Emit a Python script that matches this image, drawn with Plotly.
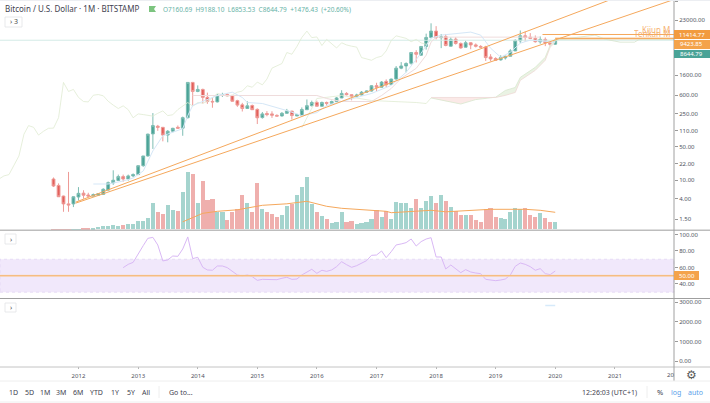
import pandas as pd
import plotly.graph_objects as go

# Monthly BTC/USD candles, Aug 2011 to Jan 2020
opens = [10.5, 7.7, 4.6, 3.15, 3.15, 4.4, 5.3, 4.85, 4.6, 4.8, 5.0, 6.15, 8.7, 9.8, 11.8, 10.5, 12.2, 13, 20, 32,
         93, 135, 128, 88, 106, 128, 123, 204, 1124, 726, 800, 545, 448, 438, 605, 625, 588, 465, 380, 318,
         368, 305, 205, 249, 245, 228, 222, 252, 280, 222, 226, 300, 365, 425, 355, 425, 410, 445, 530, 660,
         620, 572, 612, 700, 740, 960, 890, 1180, 1020, 1320, 2240, 2490, 2835, 4770, 4200, 6400, 9900, 13450, 9790, 10300,
         6480, 9110, 7400, 6175, 7650, 6900, 6400, 6250, 3850, 3570, 3340, 3670, 3985, 5160, 8400, 10700, 10040, 9450, 8000, 9000,
         7600, 7160.69]
highs = [11.3, 8.5, 4.7, 14.8, 4.5, 7.1, 6.1, 5.4, 5.2, 5.3, 6.7, 9.3, 16, 13, 13, 13, 13.8, 20, 32, 94,
         255, 144, 130, 112, 125, 140, 215, 1124, 1150, 972, 830, 685, 552, 640, 680, 660, 610, 485, 418, 450,
         385, 320, 268, 280, 278, 240, 268, 312, 285, 245, 335, 492, 465, 465, 445, 445, 465, 555, 770, 700,
         630, 650, 740, 760, 980, 1105, 1200, 1300, 1350, 2480, 3000, 2970, 4900, 5340, 6450, 11900, 19600, 17100, 11700, 11700,
         10000, 10040, 7750, 8450, 7800, 7400, 6800, 6600, 4400, 3800, 4180, 4100, 5600, 9070, 13850, 13200, 12200, 10900, 10400, 9900,
         7700, 9188.10]
lows = [7.12, 4.45, 2.15, 2.15, 2.7, 3.7, 4.05, 4.4, 4.5, 4.7, 4.9, 6.0, 7.9, 9.6, 9.2, 9.7, 11.5, 12.8, 19, 31,
        45, 108, 65, 62, 100, 118, 85, 196, 367, 700, 405, 398, 330, 425, 555, 565, 445, 345, 275, 310,
        298, 150, 195, 218, 202, 220, 215, 245, 186, 220, 224, 300, 350, 355, 350, 360, 405, 435, 525, 600,
        472, 540, 600, 690, 720, 740, 880, 900, 1000, 1290, 2130, 1830, 2650, 2950, 4110, 5500, 9500, 9000, 5900, 6450,
        6420, 7000, 5750, 6100, 5600, 6100, 5900, 3170, 3120, 3280, 3220, 3390, 3960, 5100, 7500, 8000, 9400, 7700, 7300, 6500,
        6450, 6853.53]
closes = [7.48, 4.45, 3.15, 3.0, 4.45, 5.25, 4.8, 4.6, 4.95, 5.15, 6.4, 8.8, 9.9, 11.8, 10.5, 12.2, 13, 20, 32, 92,
          139, 128, 88, 106, 122, 123, 204, 1124, 726, 800, 545, 445, 438, 605, 625, 588, 452, 375, 318, 362,
          300, 203, 245, 237, 230, 220, 252, 283, 226, 235, 302, 365, 425, 355, 425, 410, 445, 530, 660, 620,
          575, 612, 700, 740, 955, 890, 1140, 1000, 1320, 2240, 2490, 2800, 4770, 4390, 6400, 9900, 13450, 9800, 10150, 6700,
          9000, 7400, 5950, 7650, 6880, 6480, 6200, 3740, 3500, 3280, 3740, 3985, 5160, 8570, 10700, 9900, 9470, 8050, 9000, 7600,
          7100, 8644.79]
volumes = [0.2, 0.2, 0.2, 0.2, 0.2, 0.2, 0.5, 0.5, 1, 2, 3.5, 3.5, 4.5, 3, 4.5, 5.5, 5.5, 8, 8, 11,
           26, 17, 15, 24, 19, 18, 37, 57, 55, 26, 48, 29, 30, 17, 17, 9, 17, 20, 34, 26,
           17, 46, 20, 17, 15, 12, 14, 23, 25, 34, 42, 52, 25, 17, 13, 10, 6, 7, 17, 7,
           8, 5, 6, 7, 10, 19, 12, 18, 10, 27, 26, 26, 21, 30, 21, 28, 33, 26, 34, 28,
           22, 18, 14, 14, 14, 9, 7, 20, 21, 12, 11, 10, 17, 21, 20, 21, 14, 12, 16, 11,
           7, 7]

vol_ma_dates = ["2013-10", "2014-01", "2014-02", "2014-05", "2014-09", "2015-02", "2015-07", "2015-11", "2016-03", "2016-06",
                "2016-12", "2017-03", "2017-04", "2017-08", "2017-12", "2018-03", "2018-08", "2018-12", "2019-07", "2019-10", "2020-01"]
vol_ma = [7.5, 14, 16, 18, 19.5, 24, 25.5, 28, 23, 21, 19, 18, 16.6, 18, 19, 17.5, 19, 20, 20, 19, 17]

rsi_values = [59.8, 63.8, 66.2, 77.2, 86.5, 95.3, 96.5, 87.3, 67.9, 69.1, 73.9, 73.5, 82.4, 97, 70.7, 72.3, 60.2, 57, 56.6, 61.8,
              61.8, 59.8, 54.9, 50.9, 49.7, 50.9, 48.9, 44.4, 45.6, 45.6, 45.6, 45.2, 46.9, 48.1, 45.6, 46, 50.9, 54.9, 57.8, 52.9,
              56.6, 55.3, 57, 61, 67, 63.4, 60.2, 62.2, 65,
              68.3, 74.7, 75.1, 80, 71.9, 79.2, 87.3, 88.5, 90.1, 94.5, 86, 91.3, 94.5, 96.1, 72.7, 72.7, 58.2, 63, 58.2, 53.7,
              57.4, 54.5, 53.3, 52.5, 45.6, 44.4, 44, 44.8, 46, 50.9, 61.4, 65.4, 63.8, 61, 56.6, 58.6, 52.5, 51.3, 55.7]

tenkan_dates = ["2012-04", "2012-07", "2012-10", "2012-12", "2013-02", "2013-04", "2013-06", "2013-10", "2013-11", "2013-12",
                "2014-05", "2014-08", "2014-10", "2014-11", "2015-02", "2015-05", "2015-07", "2015-10", "2016-01", "2016-03",
                "2016-12", "2017-04", "2017-07", "2017-10", "2017-12", "2018-02", "2018-08", "2018-10", "2018-12", "2019-02",
                "2019-04", "2019-06", "2019-08", "2020-01"]
tenkan = [8.25, 8.25, 9.54, 11, 15.5, 41, 85, 120, 226, 367,
          597, 700, 542, 425, 405, 333, 288, 226, 261, 367,
          658, 972, 1829, 4611, 9565, 11070, 12810, 11070, 5880, 3796,
          4841, 7500, 8685, 7880]

kijun_dates = ["2013-12", "2016-01", "2016-03", "2016-06", "2016-12", "2017-02", "2017-04", "2017-06", "2017-09", "2017-11",
               "2017-12", "2018-01", "2019-10"]
kijun = [597, 597, 516, 446, 446, 597, 840, 1366, 2222, 4184, 7880, 10040, 10040]

span_early_dates = ["2015-10", "2015-11", "2016-01", "2016-06", "2016-12", "2017-09", "2017-11", "2017-12"]
span_early = [126, 205, 516, 597, 468, 425, 405, 530]

cloud_dates = ["2017-12", "2018-03", "2018-06", "2018-09", "2019-01", "2019-03", "2019-05", "2019-06", "2019-09", "2019-11",
               "2019-12", "2020-01"]
span_a = [530, 450, 395, 490, 550, 762, 881, 1434, 2333, 3796, 6806, 8685]
span_b = [542, 542, 542, 542, 542, 600, 691, 1239, 2016, 3280, 6175, 7880]

future_dates = ["2020-01", "2020-09", "2020-11", "2021-02", "2021-05", "2021-06", "2021-12-29"]
future_a = [8685, 11070, 9110, 7880, 7880, 9110, 9110]

trend_upper_dates = ["2011-12-15", "2020-12-01"]
trend_upper = [3.43, 60950]
trend_lower_dates = ["2011-12-15", "2021-12-22"]
trend_lower = [3.27, 60950]

monthly_kijun = 11414.77
monthly_tenkan = 9423.85
last_price = 8644.79
monthly_band = [9950, 8700]

price_ticks = [55000, 23000, 1600, 600, 250, 110, 50, 22, 10, 4, 1.5]
rsi_ticks = [100, 80, 60, 40]
third_ticks = [3000, 2000, 1000, 0]
year_ticks = [str(y) for y in range(2012, 2022)]

dates = pd.date_range("2011-08-01", periods=len(closes), freq="MS")
rsi_dates = pd.date_range("2012-10-01", periods=len(rsi_values), freq="MS")
assert len(opens) == len(highs) == len(lows) == len(closes) == len(volumes) == 102
assert len(rsi_values) == 88

GREEN, RED = "#4aa397", "#e2605b"
GREEN_VOL, RED_VOL = "#a5d4ce", "#efafad"
ORANGE = "#f5a85c"
TEXT = "#50535e"
FONT = "Noto Sans"
W, H = 710, 403
AXIS_X = 674


def px(x):
    return x / W


def py(y):
    return 1 - y / H


X_RANGE = ["2010-09-07", "2021-12-29"]
fig = go.Figure()

# Cloud fills and the Ichimoku lines
n = 5
fig.add_trace(go.Scatter(x=cloud_dates[:n] + cloud_dates[:n][::-1], y=span_a[:n] + span_b[:n][::-1], fill="toself",
                         fillcolor="#fbe9e7", mode="none", hoverinfo="skip"))
fig.add_trace(go.Scatter(x=cloud_dates[n - 1:] + cloud_dates[n - 1:][::-1], y=span_a[n - 1:] + span_b[n - 1:][::-1],
                         fill="toself", fillcolor="#eaf3e4", mode="none", hoverinfo="skip"))
fig.add_trace(go.Scatter(x=[future_dates[0], X_RANGE[1], X_RANGE[1], future_dates[0]],
                         y=[monthly_band[0], monthly_band[0], monthly_band[1], monthly_band[1]],
                         fill="toself", fillcolor="#fbdfc0", mode="none", hoverinfo="skip"))


def thin_line(xs, ys, color, width=0.8, yaxis="y"):
    fig.add_trace(go.Scatter(x=xs, y=ys, mode="lines", yaxis=yaxis, hoverinfo="skip",
                             line=dict(color=color, width=width)))


thin_line(X_RANGE, [last_price, last_price], "#d3ebe6", 1)
thin_line(dates - pd.DateOffset(months=25), closes, "#dfebd2")
thin_line(span_early_dates, span_early, "#dfebd2")
thin_line(cloud_dates, span_a, "#d8e7ce")
thin_line(future_dates, future_a, "#d6e3cc")
thin_line(cloud_dates, span_b, "#efd8d6")
thin_line(kijun_dates, kijun, "#efdcdc", 1)
thin_line(tenkan_dates, tenkan, "#d5e7f7", 1)

fig.add_trace(go.Candlestick(
    x=dates, open=opens, high=highs, low=lows, close=closes,
    increasing=dict(line=dict(color="#7dbdb3", width=1), fillcolor=GREEN),
    decreasing=dict(line=dict(color="#ee9a96", width=1), fillcolor=RED),
    whiskerwidth=0, hoverinfo="skip"))

thin_line(trend_upper_dates, trend_upper, ORANGE, 1)
thin_line(trend_lower_dates, trend_lower, ORANGE, 1)
thin_line(["2019-10-15", X_RANGE[1]], [monthly_kijun, monthly_kijun], ORANGE, 1)
thin_line([future_dates[0], X_RANGE[1]], [monthly_tenkan, monthly_tenkan], ORANGE, 1)

# Volume and its moving average share the lower part of the price pane
fig.add_trace(go.Bar(x=dates, y=volumes, yaxis="y2", width=2.25e9, hoverinfo="skip",
                     marker=dict(color=[GREEN_VOL if c >= o else RED_VOL for o, c in zip(opens, closes)], line_width=0)))
thin_line(vol_ma_dates, vol_ma, ORANGE, 1, "y2")

# RSI pane
thin_line(rsi_dates, rsi_values, "#d9b8f5", 1, "y3")
thin_line(X_RANGE, [50, 50], "#f8dcc0", 2, "y3")
thin_line(X_RANGE, [50, 50], ORANGE, 0.8, "y3")

# Third pane
thin_line(["2019-11", "2020-01"], [2830, 2830], "#d6eafa", 1.5, "y4")

tick_font = dict(family=FONT, size=6, color=TEXT)


def value_axis(domain, ticks, fmt, **kw):
    return dict(domain=domain, side="right", anchor="x", tickvals=ticks, ticktext=[format(t, fmt) for t in ticks],
                ticks="outside", ticklen=3, tickcolor="#9a9a9a", tickfont=tick_font, showgrid=False, zeroline=False,
                showline=False, **kw)


shapes = [
    # RSI band
    dict(type="rect", xref="paper", yref="y3", x0=0, x1=px(AXIS_X), y0=30, y1=70, fillcolor="#f1e8fb",
         line=dict(color="#dccdf0", width=0.6, dash="dot"), layer="below"),
    # Pane separators and frame
    dict(type="line", xref="paper", yref="paper", x0=0, x1=1, y0=py(230.3), y1=py(230.3), line=dict(color="#bdbdbd", width=1.5)),
    dict(type="line", xref="paper", yref="paper", x0=0, x1=1, y0=py(298.5), y1=py(298.5), line=dict(color="#9f9f9f", width=1)),
    dict(type="line", xref="paper", yref="paper", x0=0, x1=1, y0=py(367), y1=py(367), line=dict(color="#c4c4c4", width=1)),
    dict(type="line", xref="paper", yref="paper", x0=px(AXIS_X), x1=px(AXIS_X), y0=py(0), y1=py(381),
         line=dict(color="#a0a0a0", width=1)),
    dict(type="line", xref="paper", yref="paper", x0=0, x1=1, y0=py(381), y1=py(381), line=dict(color="#eeeeee", width=1)),
    dict(type="line", xref="paper", yref="paper", x0=0, x1=1, y0=py(0.5), y1=py(0.5), line=dict(color="#eceef2", width=1)),
    dict(type="line", xref="paper", yref="paper", x0=0, x1=1, y0=py(402), y1=py(402), line=dict(color="#eeeeee", width=1)),
    dict(type="line", xref="paper", yref="paper", x0=px(159), x1=px(159), y0=py(386), y1=py(398), line=dict(color="#eeeeee", width=1)),
    dict(type="line", xref="paper", yref="paper", x0=px(647), x1=px(647), y0=py(386), y1=py(398), line=dict(color="#eeeeee", width=1)),
    # Flag next to the symbol title
    dict(type="path", xref="paper", yref="paper",
         path=f"M{px(149)},{py(6)} L{px(156)},{py(6)} L{px(154)},{py(9)} L{px(156)},{py(12)} L{px(149)},{py(12)} Z",
         fillcolor="#7cc47f", line_width=0),
]

# Collapse buttons
for x0, x1, y0, y1 in [(5, 22, 17, 27), (5, 16, 234, 244), (5, 16, 303, 312)]:
    shapes.append(dict(type="rect", xref="paper", yref="paper", x0=px(x0), x1=px(x1), y0=py(y0), y1=py(y1),
                       fillcolor="white", line=dict(color="#e2e3e6", width=0.8)))

# Price tags on the right-hand scale
for y0, y1, color, x1 in [(30, 39, "#f29b3e", 710), (40, 49, "#f4a34b", 710), (50, 58, GREEN, 710), (271, 280, "#f4a34b", 699)]:
    shapes.append(dict(type="rect", xref="paper", yref="paper", x0=px(AXIS_X), x1=px(x1), y0=py(y0), y1=py(y1),
                       fillcolor=color, line_width=0))


def label(x, y, text, size=6, color=TEXT, anchor="center", family=FONT, opacity=1):
    return dict(xref="paper", yref="paper", x=px(x), y=py(y), text=text, showarrow=False, xanchor=anchor, yanchor="middle",
                font=dict(family=family, size=size, color=color), borderpad=0, borderwidth=0, opacity=opacity)


annotations = [
    label(5, 9, "Bitcoin / U.S. Dollar · 1M · BITSTAMP", 8, "#3f4350", "left"),
    label(163, 9.5, "O7160.69  H9188.10  L6853.53  C8644.79  +1476.43  (+20.60%)", 6.5, "#68b3a7", "left"),
    label(13.5, 22, "› 3", 7, "#4a4a4a"),
    label(10.5, 239, "›", 7, "#4a4a4a"),
    label(10.5, 307.5, "›", 7, "#4a4a4a"),
    label(670, 29.5, "Kijun M", 8, ORANGE, "right", opacity=0.85),
    label(670, 33.5, "Tenkan M", 8, ORANGE, "right", opacity=0.85),
    label(691.5, 34.7, f"{monthly_kijun:.2f}", 6, "white"),
    label(691.5, 44.5, f"{monthly_tenkan:.2f}", 6, "white"),
    label(691.5, 54, f"{last_price:.2f}", 6, "white"),
    label(686.5, 275.5, "50.00", 6, "white"),
    label(673.5, 375, "20", 6, TEXT, "right"),
    label(691, 374.5, "⚙", 12, "#5a5a5a", family="DejaVu Sans"),
    label(609.5, 392, "12:26:03 (UTC+1)", 7, "#3f4350"),
    label(659.5, 392, "%", 7.5, "#3f4350"),
    label(675.5, 392, "log", 7, "#5aa0ea"),
    label(695, 392, "auto", 7, "#5aa0ea"),
    label(181, 392, "Go to...", 7, "#3f4350"),
]
for name, x in zip(["1D", "5D", "1M", "3M", "6M", "YTD", "1Y", "5Y", "All"], [13, 29, 45, 61, 78, 96.5, 115, 130.5, 146]):
    annotations.append(label(x, 392, name, 7, "#3f4350"))

fig.update_layout(
    width=W, height=H, margin=dict(l=0, r=0, t=0, b=0), autosize=False,
    paper_bgcolor="white", plot_bgcolor="white", showlegend=False, hovermode=False,
    bargap=0, boxgap=0.12, shapes=shapes, annotations=annotations,
    xaxis=dict(domain=[0, px(AXIS_X)], type="date", range=X_RANGE, anchor="y4", rangeslider=dict(visible=False),
               tickvals=[f"{y}-01-01" for y in year_ticks], ticktext=year_ticks, ticks="outside", ticklen=2,
               tickcolor="#b5b5b5", tickfont=tick_font, ticklabelstandoff=2, showgrid=False, zeroline=False, showline=False),
    yaxis=value_axis([py(230), 1], price_ticks, ".2f", type="log", range=[-0.05, 4.782]),
    yaxis2=dict(domain=[py(230), 1], overlaying="y", range=[-0.7, 229.3], visible=False, fixedrange=True),
    yaxis3=value_axis([py(298), py(231)], rsi_ticks, ".2f", range=[23, 104.2]),
    yaxis4=value_axis([py(366), py(299.5)], third_ticks, ".2f", range=[-255, 3142]),
)
fig.write_html("out.html")
